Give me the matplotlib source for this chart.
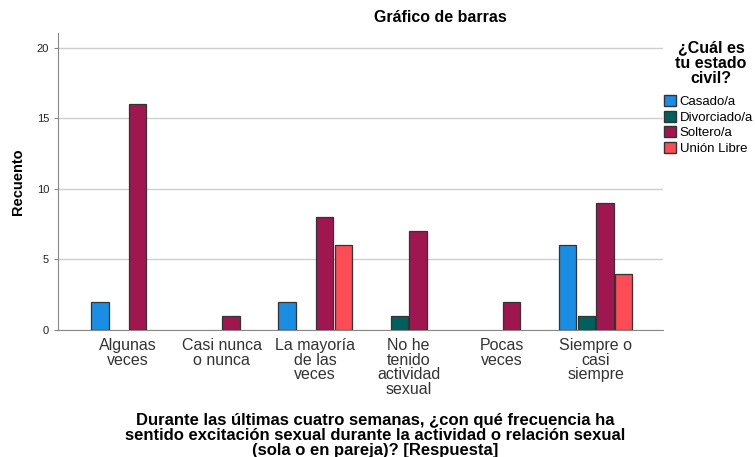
import numpy as np
import matplotlib
matplotlib.use("Agg")
import matplotlib.pyplot as plt
from matplotlib.patches import Patch

plt.rcParams['font.family'] = ['Liberation Sans', 'DejaVu Sans']

categorias = ["Algunas\nveces", "Casi nunca\no nunca", "La mayoría\nde las\nveces",
              "No he\ntenido\nactividad\nsexual", "Pocas\nveces", "Siempre o\ncasi\nsiempre"]
series = ["Casado/a", "Divorciado/a", "Soltero/a", "Unión Libre"]
casado = [2, 0, 2, 0, 0, 6]
divorciado = [0, 0, 0, 1, 0, 1]
soltero = [16, 1, 8, 7, 2, 9]
union_libre = [0, 0, 6, 0, 0, 4]
valores = [casado, divorciado, soltero, union_libre]
colores = ["#1a8ee3", "#00605e", "#a0174f", "#fd4c55"]

fig = plt.figure(figsize=(7.55, 4.57), dpi=100)
ax = fig.add_axes([58/755, 1 - 330/457, (663-58)/755, (330-33)/457])

x = np.arange(len(categorias))
w = 0.2
for i, (vals, col) in enumerate(zip(valores, colores)):
    off = (i - 1.5) * w
    for j, v in enumerate(vals):
        if v > 0:
            ax.bar(x[j] + off, v, width=w * 0.93, color=col, edgecolor="#333333", linewidth=0.9, zorder=3)

ax.set_xlim(-0.75, 5.72)
ax.set_ylim(0, 21.06)
ax.set_yticks([0, 5, 10, 15, 20])
ax.yaxis.grid(True, color="#cfcfcf", linewidth=1, zorder=0)
ax.set_axisbelow(True)
for s in ["top", "right"]:
    ax.spines[s].set_visible(False)
ax.spines["left"].set_color("#888888")
ax.spines["bottom"].set_color("#888888")
ax.tick_params(axis="y", labelsize=8, length=3, color="#888888", labelcolor="#222222")
ax.set_xticks(x)
ax.set_xticklabels(categorias, fontsize=11.5, color="#333333", linespacing=0.95)
ax.tick_params(axis="x", length=0, pad=6)
ax.set_ylabel("Recuento", fontsize=10.5, fontweight="bold", labelpad=8)

fig.text(440/755, 1 - 18/457, "Gráfico de barras", ha="center", va="center",
         fontsize=11.5, fontweight="bold")
fig.text(375/755, 1 - 436/457,
         "Durante las últimas cuatro semanas, ¿con qué frecuencia ha\n"
         "sentido excitación sexual durante la actividad o relación sexual\n"
         "(sola o en pareja)? [Respuesta]",
         ha="center", va="center", fontsize=12, fontweight="bold", linespacing=1.0)

fig.text(711/755, 1 - 63/457, "¿Cuál es\ntu estado\ncivil?", ha="center", va="center",
         fontsize=11.5, fontweight="bold", linespacing=1.05)
handles = [Patch(facecolor=c, edgecolor="#333333", label=s) for s, c in zip(series, colores)]
fig.legend(handles=handles, loc="upper left", bbox_to_anchor=(664/755, 1 - 95/457),
           frameon=False, fontsize=9.5, handlelength=0.9, handleheight=0.9,
           handletextpad=0.3, borderpad=0, labelspacing=0.2, borderaxespad=0)

fig.savefig("out.png", dpi=100)
